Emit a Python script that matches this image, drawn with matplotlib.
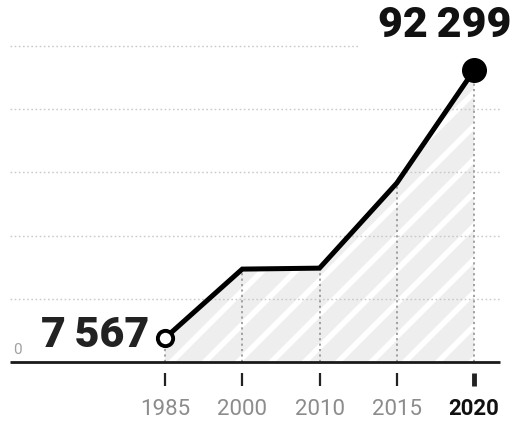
import matplotlib
matplotlib.use("Agg")
import matplotlib.pyplot as plt

years = ["1985", "2000", "2010", "2015", "2020"]
values = [7567, 29400, 29700, 56600, 92299]
grid_values = [20000, 40000, 60000, 80000, 100000]
first_label = "7\u2009567"
last_label = "92\u2009299"

plt.rcParams['hatch.linewidth'] = 4.0

fig = plt.figure(figsize=(5.12, 4.23), dpi=100)
ax = fig.add_axes([0, 0, 1, 1])
ax.set_axis_off()

x0_px, dx_px = 165.0, 77.25
zero_px, scale = 362.0, 0.00316
def xi(px):
    return (px - x0_px) / dx_px
ypx = lambda p: (zero_px - p) / scale
ax.set_xlim(xi(0), xi(512))
ax.set_ylim((zero_px - 423) / scale, zero_px / scale)

xs = list(range(len(years)))

ax.fill_between(xs, 0, values, facecolor="#eeeeee", edgecolor="white",
                hatch="/", linewidth=0, zorder=1)

for g in grid_values:
    right = xi(360) if g == grid_values[-1] else xi(500)
    ax.plot([xi(10), right], [g, g], color="#c4c4c4", lw=1.0,
            linestyle=(0, (1.2, 1.8)), zorder=2, alpha=0.9)

for x, v in zip(xs, values):
    ax.plot([x, x], [0, v], color="#9a9a9a", lw=1.3,
            linestyle=(0, (1.2, 1.8)), zorder=3)

ax.plot([xi(10), xi(500)], [0, 0], color="#1a1a1a", lw=2.0, zorder=4,
        solid_capstyle="butt")

ax.plot(xs, values, color="black", lw=3.6, zorder=5, solid_joinstyle="miter")

ax.plot(xs[0], values[0], "o", ms=11, mfc="white", mec="black", mew=2.8,
        zorder=6)
ax.plot(xs[-1], values[-1], "o", ms=17, mfc="black", mec="black", zorder=6)

for i, x in enumerate(xs):
    last = i == len(xs) - 1
    ax.plot([x, x], [ypx(373), ypx(386)], color="#222222",
            lw=3.5 if last else 1.6, zorder=4, solid_capstyle="butt")
    ax.text(x, ypx(409), years[i], ha="center", va="center",
            fontsize=16, family=["Roboto", "DejaVu Sans"],
            color="#111111" if last else "#8c8c8c",
            fontweight="bold" if last else "normal")

ax.text(xi(17), ypx(350), "0", ha="center", va="center", fontsize=11,
        family=["Roboto", "DejaVu Sans"], color="#a0a0a0")

ax.text(xi(149), ypx(335), first_label, ha="right", va="center",
        fontsize=31, fontweight="black", family=["Roboto", "DejaVu Sans"],
        color="#222222", zorder=7)
ax.text(xi(511), ypx(25), last_label, ha="right", va="center",
        fontsize=31, fontweight="black", family=["Roboto", "DejaVu Sans"],
        color="#111111", zorder=7)

fig.savefig("out.png", dpi=100)
